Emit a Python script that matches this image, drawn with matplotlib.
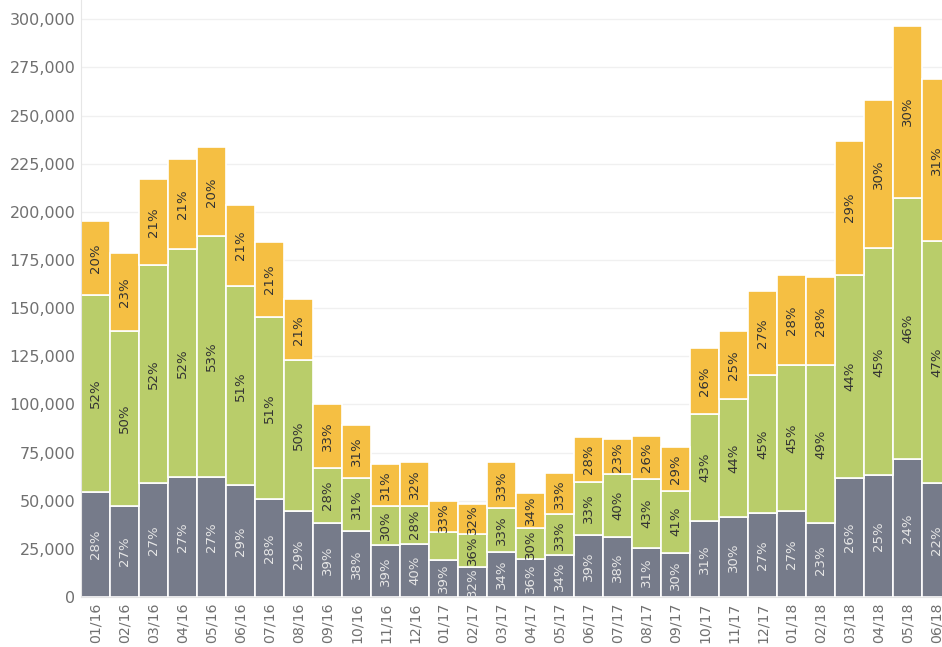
import numpy as np
import matplotlib.pyplot as plt
from matplotlib.ticker import FuncFormatter

months = ["01/16", "02/16", "03/16", "04/16", "05/16", "06/16", "07/16", "08/16",
          "09/16", "10/16", "11/16", "12/16", "01/17", "02/17", "03/17", "04/17",
          "05/17", "06/17", "07/17", "08/17", "09/17", "10/17", "11/17", "12/17",
          "01/18", "02/18", "03/18", "04/18", "05/18", "06/18"]

gray_vals = [54600, 47200, 59200, 62100, 62400, 58000, 51000, 44800, 38600, 34100,
             26800, 27700, 19400, 15500, 23400, 19500, 21600, 32000, 31200, 25500,
             23000, 39500, 41400, 43400, 44600, 38200, 61800, 63200, 71500, 59000]
green_vals = [102000, 90800, 113000, 118500, 124800, 103400, 94300, 78100, 28200, 27700,
              20600, 19700, 14200, 17400, 23000, 16200, 21300, 27800, 32500, 35900,
              32200, 55500, 61500, 71700, 75800, 82200, 105500, 117800, 135800, 125800]
orange_vals = [38400, 40500, 44800, 46700, 46400, 42400, 39100, 31800, 33200, 27500,
               21600, 22800, 16100, 15400, 23500, 18400, 21300, 23200, 18300, 22300,
               22700, 34200, 35200, 43700, 46900, 45900, 69700, 77300, 89400, 84400]

# percent labels as shown on the chart (None = no label drawn)
gray_pct = [28, 27, 27, 27, 27, 29, 28, 29, 39, 38, 39, 40, 39, 32, 34, 36, 34, 39, 38, 31,
            30, 31, 30, 27, 27, 23, 26, 25, 24, 22]
green_pct = [52, 50, 52, 52, 53, 51, 51, 50, 28, 31, 30, 28, None, 36, 33, 30, 33, 33, 40, 43,
             41, 43, 44, 45, 45, 49, 44, 45, 46, 47]
orange_pct = [20, 23, 21, 21, 20, 21, 21, 21, 33, 31, 31, 32, 33, 32, 33, 34, 33, 28, 23, 26,
              29, 26, 25, 27, 28, 28, 29, 30, 30, 31]

c_gray, c_green, c_orange = "#767b8a", "#b9cd6a", "#f5bf43"

fig = plt.figure(figsize=(9.42, 6.47), dpi=100)
ax = fig.add_axes([81/942, 50/647, 1 - 81/942, 1 - 50/647])

x = np.arange(len(months))
g = np.array(gray_vals); gr = np.array(green_vals); o = np.array(orange_vals)

ax.bar(x, g, width=1.0, color=c_gray, edgecolor="white", linewidth=1.2, zorder=2)
ax.bar(x, gr, width=1.0, bottom=g, color=c_green, edgecolor="white", linewidth=1.2, zorder=2)
ax.bar(x, o, width=1.0, bottom=g + gr, color=c_orange, edgecolor="white", linewidth=1.2, zorder=2)

for i in range(len(months)):
    for bottom, h, p, col in [(0, g[i], gray_pct[i], "#e6e6e6"),
                              (g[i], gr[i], green_pct[i], "#333333"),
                              (g[i] + gr[i], o[i], orange_pct[i], "#333333")]:
        if p is None:
            continue
        ax.text(i, bottom + h / 2, f"{p}%", rotation=90, ha="center", va="center",
                fontsize=9.5, color=col, zorder=3)

ax.set_xlim(-0.5, 29.19)
ax.set_ylim(0, 310000)
ax.set_yticks(np.arange(0, 300001, 25000))
ax.yaxis.set_major_formatter(FuncFormatter(lambda v, _: f"{int(v):,}"))
ax.set_xticks(x)
ax.set_xticklabels(months, rotation=90)
ax.tick_params(axis="both", length=0, labelcolor="#707070")
ax.tick_params(axis="y", pad=4, labelsize=11.5)
ax.tick_params(axis="x", pad=4, labelsize=10.2)

ax.grid(axis="y", color="#f0f0f0", linewidth=1, zorder=0)
ax.set_axisbelow(True)
for s in ["top", "right"]:
    ax.spines[s].set_visible(False)
for s in ["left", "bottom"]:
    ax.spines[s].set_color("#e6e6e6")

fig.savefig("out.png", dpi=100)
